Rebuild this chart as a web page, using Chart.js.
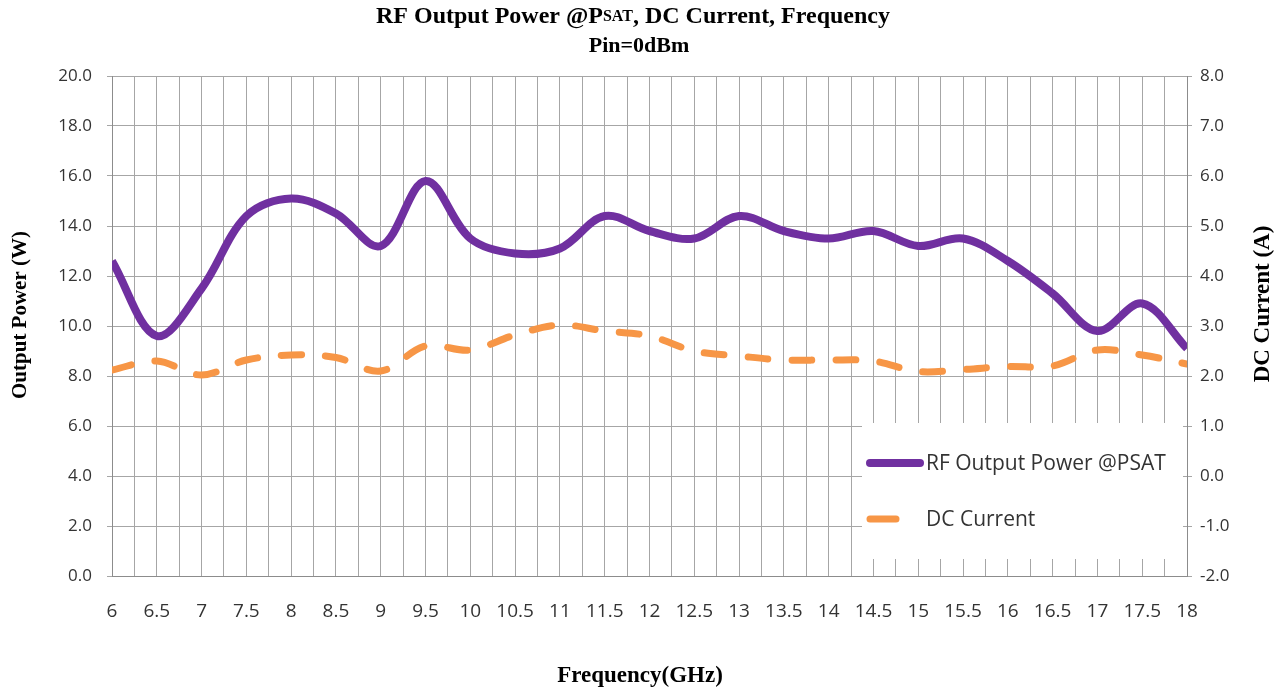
<!DOCTYPE html>
<html>
<head>
<meta charset="utf-8">
<script src="https://cdn.jsdelivr.net/npm/chart.js@4.4.0/dist/chart.umd.min.js"></script>
<style>
  html, body { margin: 0; padding: 0; background: #ffffff; }
</style>
</head>
<body>
<canvas id="powerChart" width="1285" height="690"></canvas>
<script>
// ================= DATA =================

const frequencyGHz = [
    6, 6.5, 7, 7.5, 8, 8.5, 9, 9.5, 10, 10.5, 11, 11.5, 12,
    12.5, 13, 13.5, 14, 14.5, 15, 15.5, 16, 16.5, 17, 17.5, 18
];

const outputPowerW = [
    12.6, 9.6, 11.5, 14.4, 15.1, 14.5, 13.2, 15.8, 13.5, 12.9, 13.1, 14.4, 13.8,
    13.5, 14.4, 13.8, 13.5, 13.8, 13.2, 13.5, 12.6, 11.3, 9.8, 10.9, 9.1
];

const dcCurrentA = [
    2.12, 2.30, 2.02, 2.32, 2.42, 2.37, 2.10, 2.60, 2.52, 2.82, 3.02, 2.90, 2.80,
    2.50, 2.40, 2.32, 2.32, 2.30, 2.09, 2.13, 2.19, 2.20, 2.52, 2.42, 2.24
];

const seriesNames = [
    "RF Output Power @PSAT",
    "DC Current"
];

const seriesColors = [
    "#7030a0",
    "#f79646"
];

// ================= TEXT PLUGIN =================

// Titles are drawn by hand: the "SAT" is in small caps and the
// right axis title reads bottom to top like the left one
const chartText = {

    id: "chartText",

    afterDraw(chart) {

        const { ctx, chartArea } = chart;

        ctx.save();

        ctx.fillStyle = "#000000";
        ctx.textBaseline = "middle";

        // Title line 1
        const bigFont = "bold 24px 'Liberation Serif'";
        const smallFont = "bold 16px 'Liberation Serif'";

        const parts = [
            ["RF Output Power @P", bigFont],
            ["SAT", smallFont],
            [", DC Current, Frequency", bigFont]
        ];

        let total = 0;
        parts.forEach(p => {
            ctx.font = p[1];
            total += ctx.measureText(p[0]).width;
        });

        let x = 633 - total / 2;
        ctx.textAlign = "left";
        parts.forEach(p => {
            ctx.font = p[1];
            ctx.fillText(p[0], x, 17);
            x += ctx.measureText(p[0]).width;
        });

        // Title line 2
        ctx.font = "bold 22px 'Liberation Serif'";
        ctx.textAlign = "center";
        ctx.fillText("Pin=0dBm", 639, 46);

        // Axis titles
        ctx.font = "bold 23px 'Liberation Serif'";
        ctx.fillText("Frequency(GHz)", 640, 676);

        ctx.save();
        ctx.font = "bold 21px 'Liberation Serif'";
        ctx.translate(21, 315);
        ctx.rotate(-Math.PI / 2);
        ctx.fillText("Output Power (W)", 0, 0);
        ctx.restore();

        ctx.save();
        ctx.font = "bold 23px 'Liberation Serif'";
        ctx.translate(1263, 304);
        ctx.rotate(-Math.PI / 2);
        ctx.fillText("DC Current (A)", 0, 0);
        ctx.restore();

        // Legend box inside the plot
        ctx.fillStyle = "#ffffff";
        ctx.fillRect(862, 423, chartArea.right - 4 - 862, 136);

        ctx.lineCap = "round";

        ctx.strokeStyle = seriesColors[0];
        ctx.lineWidth = 8;
        ctx.beginPath();
        ctx.moveTo(870, 463);
        ctx.lineTo(920, 463);
        ctx.stroke();

        ctx.strokeStyle = seriesColors[1];
        ctx.lineWidth = 7;
        ctx.beginPath();
        ctx.moveTo(870, 519);
        ctx.lineTo(896, 519);
        ctx.stroke();

        ctx.fillStyle = "#333333";
        ctx.font = "21px 'Open Sans'";
        ctx.textAlign = "left";
        ctx.fillText(seriesNames[0], 926, 464);
        ctx.fillText(seriesNames[1], 926, 520);

        ctx.restore();
    }
};

// ================= CHART =================

const powerPoints =
    frequencyGHz.map((f, i) => ({ x: f, y: outputPowerW[i] }));

const currentPoints =
    frequencyGHz.map((f, i) => ({ x: f, y: dcCurrentA[i] }));

const gridColor = "#a6a6a6";
const tickColor = "#333333";

new Chart(
    document.getElementById("powerChart"),
    {
        type: "line",

        data: {
            datasets: [
                {
                    label: seriesNames[0],
                    data: powerPoints,
                    yAxisID: "y",
                    borderColor: seriesColors[0],
                    borderWidth: 8,
                    tension: 0.35,
                    pointRadius: 0,
                    fill: false
                },
                {
                    label: seriesNames[1],
                    data: currentPoints,
                    yAxisID: "y1",
                    borderColor: seriesColors[1],
                    borderWidth: 7,
                    borderDash: [20, 24],
                    borderCapStyle: "round",
                    tension: 0.35,
                    pointRadius: 0,
                    fill: false
                }
            ]
        },

        options: {
            responsive: false,
            animation: false,

            layout: {
                padding: { top: 76, left: 0, right: 0, bottom: 0 }
            },

            plugins: {
                legend: { display: false },
                title: { display: false },
                tooltip: { enabled: false }
            },

            scales: {
                x: {
                    type: "linear",
                    min: 6,
                    max: 18,
                    afterFit(scale) { scale.height = 114; },
                    grid: {
                        color: gridColor,
                        drawTicks: false
                    },
                    border: { color: "#8c8c8c" },
                    ticks: {
                        stepSize: 0.25,
                        autoSkip: false,
                        maxRotation: 0,
                        padding: 24,
                        color: tickColor,
                        font: { family: "Open Sans", size: 19 },
                        callback: v => (v * 2) % 1 === 0 ? String(v) : ""
                    }
                },

                y: {
                    position: "left",
                    min: 0,
                    max: 20,
                    afterFit(scale) { scale.width = 112; },
                    grid: {
                        color: gridColor,
                        tickLength: 5
                    },
                    border: { color: "#8c8c8c" },
                    ticks: {
                        stepSize: 2,
                        padding: 15,
                        color: tickColor,
                        font: { family: "Open Sans", size: 17 },
                        callback: v => v.toFixed(1)
                    }
                },

                y1: {
                    position: "right",
                    min: -2,
                    max: 8,
                    afterFit(scale) { scale.width = 98; },
                    grid: {
                        drawOnChartArea: false,
                        color: gridColor,
                        tickLength: 5
                    },
                    border: { color: "#8c8c8c" },
                    ticks: {
                        stepSize: 1,
                        padding: 8,
                        color: tickColor,
                        font: { family: "Open Sans", size: 17 },
                        callback: v => v.toFixed(1)
                    }
                }
            }
        },

        plugins: [
            chartText
        ]
    }
);
</script>
</body>
</html>
